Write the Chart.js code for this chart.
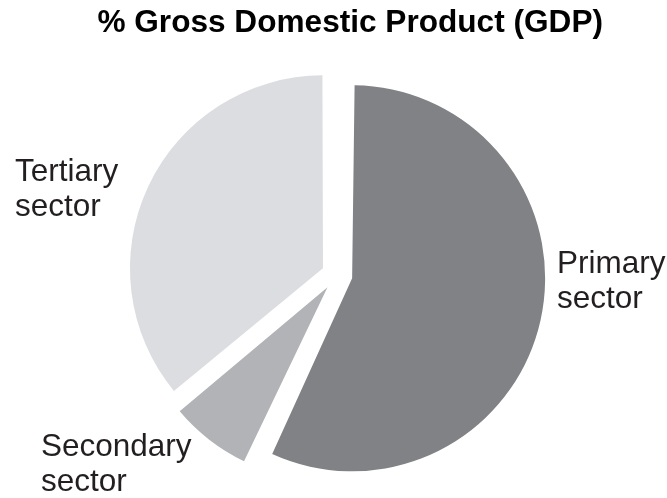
<!DOCTYPE html>
<html>
<head>
<meta charset="utf-8">
<title>% Gross Domestic Product (GDP)</title>
<script src="https://cdn.jsdelivr.net/npm/chart.js@4/dist/chart.umd.min.js"></script>
<style>
    html, body { margin: 0; padding: 0; background: #ffffff; }
    #wrap { width: 667px; height: 498px; }
</style>
</head>
<body>
<div id="wrap"><canvas id="gdpPie"></canvas></div>
<script>
// GDP share by sector (%)
const sectors = ['Primary sector', 'Secondary sector', 'Tertiary sector'];
const shares = [57, 7, 36];
const sliceColors = ['#808285', '#b1b3b6', '#dcdde0'];

// Chart.js grows wide slices by their offset; keep all slices on one radius
const arcDraw = Chart.ArcElement.prototype.draw;
Chart.ArcElement.prototype.draw = function (ctx) {
    const shift = (this.options.offset || 0) / 4;
    const fix = 1 - Math.sin(Math.min(Math.PI, this.circumference || 0));
    const r = this.outerRadius;
    this.outerRadius = r - shift * fix;
    arcDraw.call(this, ctx);
    this.outerRadius = r;
};

// Outside labels, placed relative to the pie centre
const sectorLabels = {
    id: 'sectorLabels',
    afterDatasetsDraw(chart) {
        const arcs = chart.getDatasetMeta(0).data;
        if (!arcs.length) return;
        const cx = arcs[0].x;
        const cy = arcs[0].y;
        const spots = [
            { dx: 220, dy: -2 },
            { dx: -296, dy: 181 },
            { dx: -322, dy: -94 }
        ];
        const ctx = chart.ctx;
        ctx.save();
        ctx.fillStyle = '#231f20';
        ctx.font = '31.5px "Liberation Sans", Arial, sans-serif';
        ctx.textAlign = 'left';
        ctx.textBaseline = 'alphabetic';
        sectors.forEach((name, i) => {
            const lines = name.split(' ');
            lines.forEach((line, j) => {
                ctx.fillText(line, cx + spots[i].dx, cy + spots[i].dy + j * 35);
            });
        });
        ctx.restore();
    }
};

new Chart(document.getElementById('gdpPie'), {
    type: 'pie',
    data: {
        labels: sectors,
        datasets: [{
            data: shares,
            backgroundColor: sliceColors,
            borderWidth: 0,
            offset: 62,
            hoverOffset: 0,
            radius: 193,
            clip: false
        }]
    },
    options: {
        responsive: true,
        maintainAspectRatio: false,
        animation: false,
        layout: {
            padding: { left: 71, right: 64, top: 0, bottom: 0 }
        },
        plugins: {
            title: {
                display: true,
                align: 'end',
                text: '% Gross Domestic Product (GDP)',
                color: '#000000',
                font: {
                    family: '"Liberation Sans", Arial, sans-serif',
                    size: 31.6,
                    weight: 'bold',
                    lineHeight: 1.2
                },
                padding: { top: 4, bottom: 10 }
            },
            legend: { display: false },
            tooltip: { enabled: false }
        }
    },
    plugins: [sectorLabels]
});
</script>
</body>
</html>
